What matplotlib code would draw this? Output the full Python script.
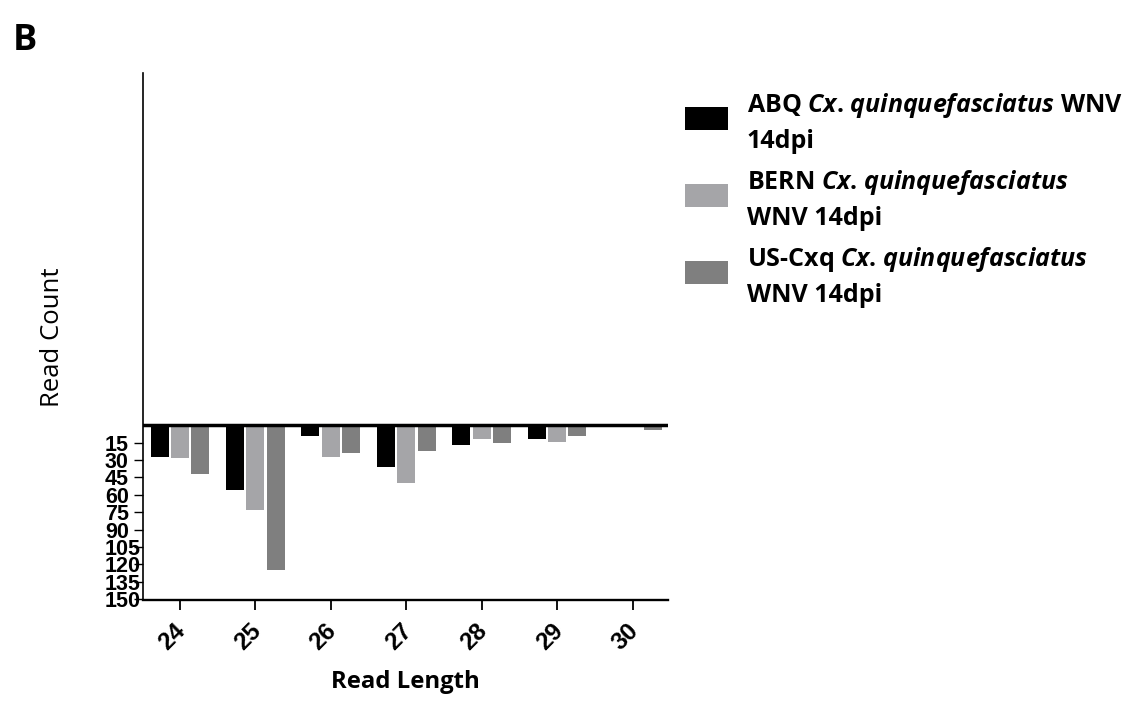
import numpy as np
import matplotlib
matplotlib.use("Agg")
import matplotlib.pyplot as plt
from matplotlib.transforms import ScaledTranslation

# read lengths and counts (counts drawn downwards)
lengths = [24, 25, 26, 27, 28, 29, 30]
abq = [27, 56, 9, 36, 17, 12, 0]
bern = [28, 73, 27, 50, 12, 14, 0]
uscxq = [42, 125, 24, 22, 15, 9, 4]
ytick_vals = [15, 30, 45, 60, 75, 90, 105, 120, 135, 150]

species = r"$\mathit{Cx}$. $\mathit{quinquefasciatus}$"
labels = [
    "ABQ " + species + " WNV\n14dpi",
    "BERN " + species + "\nWNV 14dpi",
    "US-Cxq " + species + "\nWNV 14dpi",
]
colors = ["#000000", "#a5a5a8", "#7f7f7f"]

plt.rcParams["font.family"] = ["Open Sans", "DejaVu Sans"]
plt.rcParams["mathtext.fontset"] = "custom"
plt.rcParams["mathtext.it"] = "Open Sans:italic:bold"
plt.rcParams["mathtext.rm"] = "Open Sans:bold"
num_font = ["Liberation Sans", "DejaVu Sans"]

fig = plt.figure(figsize=(11.43, 7.09), dpi=100)
ax = fig.add_axes([0.12511, 0.15374, 0.45932, 0.74330])

x = np.array(lengths, dtype=float)
step = 0.27
width = 0.239
bars = []
for i, (vals, c) in enumerate(zip([abq, bern, uscxq], colors)):
    b = ax.bar(x + (i - 1) * step, vals, width=width, color=c, align="center")
    bars.append(b)

ax.set_xlim(23.51, 30.47)
ax.set_ylim(151, -305)
ax.axhline(0, color="black", lw=2.5, zorder=3)

ax.spines["top"].set_visible(False)
ax.spines["right"].set_visible(False)
ax.spines["left"].set_linewidth(1.2)
ax.spines["bottom"].set_linewidth(1.7)

ax.set_yticks(ytick_vals)
ax.set_yticklabels([str(v) for v in ytick_vals], family=num_font,
                   fontsize=15.5, fontweight="bold", ha="left")
ax.tick_params(axis="y", length=6.5, width=1.0, pad=20.9)

ax.set_xticks(lengths)
ax.set_xticklabels([str(v) for v in lengths], rotation=45, ha="right",
                   va="top", rotation_mode="anchor", family=num_font,
                   fontsize=17.5, fontweight="bold")
ax.tick_params(axis="x", length=7, width=1.3, direction="out", pad=7)
shift = ScaledTranslation(-6 / 100, 0, fig.dpi_scale_trans)
for lab in ax.get_xticklabels():
    lab.set_transform(lab.get_transform() + shift)

ax.set_xlabel("Read Length", fontsize=17.2, fontweight="bold")
ax.xaxis.label.set_va("center")
ax.xaxis.set_label_coords(0.5, -0.1547)
ax.set_ylabel("Read Count", fontsize=18.5)
ax.yaxis.label.set_va("center")
ax.yaxis.set_label_coords(-0.1724, 0.498)

leg = fig.legend([b[0] for b in bars], labels, loc="upper left",
                 bbox_to_anchor=(0.5993, 0.8717), frameon=False,
                 prop={"size": 18, "weight": "bold"},
                 handlelength=1.73, handleheight=1.03, handletextpad=0.75,
                 labelspacing=0.54, borderpad=0, borderaxespad=0)
for t in leg.get_texts():
    t.set_linespacing(1.5)
# nudge the swatches up a little so they sit centred on their two lines
for h in leg.legend_handles:
    h.set_y(h.get_y() + 4)

fig.text(0.0111, 0.9295, "B", fontsize=26, fontweight="bold", va="baseline")

fig.savefig("out.png", dpi=100)
